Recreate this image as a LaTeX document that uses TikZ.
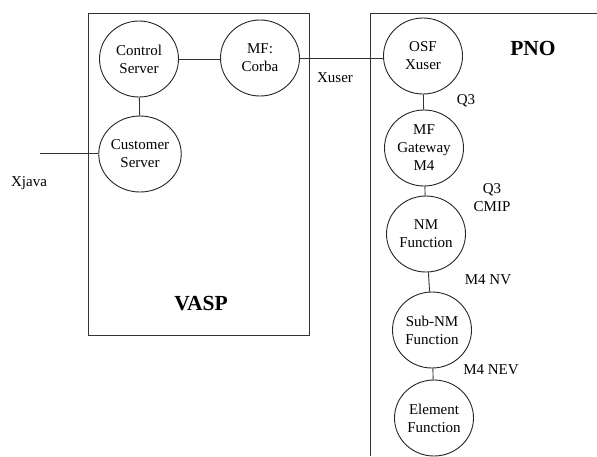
\documentclass[tikz,border=0pt]{standalone}
\usepackage{fontspec}
\setmainfont{Liberation Serif}
\usetikzlibrary{shapes.geometric}
\begin{document}
\begin{tikzpicture}[x=1pt,y=-1pt,
  edgeline/.style={draw=black!80,line width=0.9pt},
  func/.style={ellipse,draw=black!85,line width=0.9pt,minimum width=79pt,minimum height=76pt,
    inner sep=0pt,align=center,font=\fontsize{15}{18}\selectfont},
  lbl/.style={inner sep=0pt,align=center,font=\fontsize{15}{18}\selectfont},
  domainlabel/.style={inner sep=0pt,font=\fontsize{21.5}{24}\selectfont\bfseries}]
\useasboundingbox (0,0) rectangle (597,456);
\fill[white] (0,0) rectangle (597,456);

% provider domains
\draw[edgeline] (88,13) rectangle (309,335);
\draw[edgeline] (370,456) -- (370,13) -- (597,13);
\node[domainlabel] (vasp) at (201,304) {VASP};
\node[domainlabel] (pno) at (533,48) {PNO};

% VASP functions
\node[func] (ctrl) at (139,59) {Control\\Server};
\node[func] (mfc) at (260,58) {MF:\\Corba};
\node[func] (cust) at (140,154) {Customer\\Server};

% PNO management chain
\node[func] (osf) at (423,56) {OSF\\Xuser};
\node[func] (gw) at (424,148) {MF\\Gateway\\M4};
\node[func] (nm) at (426,234) {NM\\Function};
\node[func] (subnm) at (432,330) {Sub-NM\\Function};
\node[func] (elem) at (434,418) {Element\\Function};

% connections
\coordinate (xj) at (40,153);
\draw[edgeline] (ctrl.east) -- (ctrl.east -| mfc.west);
\draw[edgeline] (ctrl) -- (cust);
\draw[edgeline] (xj) -- (xj -| cust.west);
\draw[edgeline] (mfc.east) -- (mfc.east -| osf.west);
\draw[edgeline] (osf) -- (gw);
\draw[edgeline] (gw) -- (nm);
\draw[edgeline] (nm) -- (subnm);
\draw[edgeline] (subnm) -- (elem);

% interface labels
\node[lbl] (lxjava) at (29,183) {Xjava};
\node[lbl] (lxuser) at (335,78) {Xuser};
\node[lbl] (lq3) at (466,101) {Q3};
\node[lbl] (lcmip) at (492,198) {Q3\\CMIP};
\node[lbl] (lnv) at (488,280) {M4 NV};
\node[lbl] (lnev) at (491,370) {M4 NEV};
\end{tikzpicture}
\end{document}
